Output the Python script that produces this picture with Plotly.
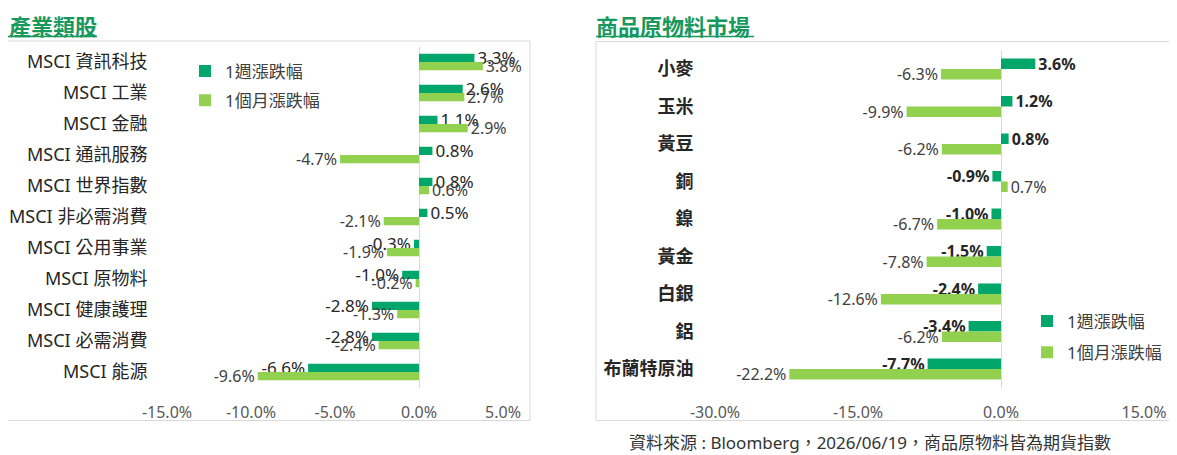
import plotly.graph_objects as go

W, H = 1177, 455

# 產業類股
sector_names = ["MSCI 資訊科技", "MSCI 工業", "MSCI 金融", "MSCI 通訊服務", "MSCI 世界指數",
                "MSCI 非必需消費", "MSCI 公用事業", "MSCI 原物料", "MSCI 健康護理",
                "MSCI 必需消費", "MSCI 能源"]
sector_week = [3.3, 2.6, 1.1, 0.8, 0.8, 0.5, -0.3, -1.0, -2.8, -2.8, -6.6]
sector_month = [3.8, 2.7, 2.9, -4.7, 0.6, -2.1, -1.9, -0.2, -1.3, -2.4, -9.6]
sector_ticks = [-15, -10, -5, 0, 5]

# 商品原物料市場
commodity_names = ["小麥", "玉米", "黃豆", "銅", "鎳", "黃金", "白銀", "鋁", "布蘭特原油"]
commodity_week = [3.6, 1.2, 0.8, -0.9, -1.0, -1.5, -2.4, -3.4, -7.7]
commodity_month = [-6.3, -9.9, -6.2, 0.7, -6.7, -7.8, -12.6, -6.2, -22.2]
commodity_ticks = [-30, -15, 0, 15]

series_names = ["1週漲跌幅", "1個月漲跌幅"]

DARK = "#00a66a"
LIGHT = "#92d050"
TITLE_GREEN = "#17985d"
FONT = "Noto Sans, Noto Sans CJK TC, sans-serif"

# the page body adds an 8px margin, so positions are given in window pixels
PAGE = 8


def fx(p):
    return (p - PAGE) / W


def fy(p):
    return 1 - (p - PAGE) / H


def pct(vals):
    # plain hyphen minus, like the source chart
    return [f"{v:.1f}%" for v in vals]


fig = go.Figure()

# bar thickness as a share of one category row
lw = 8.2 / 31
rw = 10.5 / 37.5
panels = [
    ("x", "y", "legend", sector_names, sector_week, sector_month, lw, "normal", 17),
    ("x2", "y2", "legend2", commodity_names, commodity_week, commodity_month, rw, "bold", 16),
]
for xa, ya, lg, names, week, month, w, wk_weight, wk_size in panels:
    fig.add_trace(go.Bar(
        x=week, y=names, orientation="h", name=series_names[0],
        xaxis=xa, yaxis=ya, legend=lg, legendgroup=lg + "a",
        marker=dict(color=DARK, line=dict(width=0)),
        width=w, offset=-w,
        text=pct(week), textposition="outside", constraintext="none",
        textfont=dict(size=wk_size, color="#262626", family=FONT, weight=wk_weight),
        cliponaxis=False,
    ))
    fig.add_trace(go.Bar(
        x=month, y=names, orientation="h", name=series_names[1],
        xaxis=xa, yaxis=ya, legend=lg, legendgroup=lg + "b",
        marker=dict(color=LIGHT, line=dict(width=0)),
        width=w, offset=0,
        text=pct(month), textposition="outside", constraintext="none",
        textfont=dict(size=16, color="#404040", family=FONT),
        cliponaxis=False,
    ))

xcommon = dict(showgrid=False, zeroline=True, zerolinecolor="#d9d9d9", zerolinewidth=1,
               showline=False, ticks="outside", ticklen=10, tickcolor="rgba(0,0,0,0)",
               automargin=False, tickmode="array",
               tickfont=dict(size=16, color="#595959", family=FONT), fixedrange=True)
ycommon = dict(type="category", autorange="reversed", showgrid=False, showline=False,
               ticks="outside", tickcolor="rgba(0,0,0,0)", automargin=False, fixedrange=True)

fig.update_layout(
    width=W, height=H,
    margin=dict(l=0, r=0, t=0, b=0, autoexpand=False),
    paper_bgcolor="white", plot_bgcolor="white",
    barmode="overlay",
    font=dict(family=FONT, color="#262626"),
    xaxis=dict(domain=[fx(167), fx(503)], range=[-15, 5], anchor="y",
               tickvals=sector_ticks, ticktext=pct(sector_ticks), **xcommon),
    yaxis=dict(domain=[fy(387.5), fy(46.5)], anchor="x", ticklen=15,
               tickfont=dict(size=18, color="#262626", family=FONT), **ycommon),
    xaxis2=dict(domain=[fx(715), fx(1144)], range=[-30, 15], anchor="y2",
                tickvals=commodity_ticks, ticktext=pct(commodity_ticks), **xcommon),
    yaxis2=dict(domain=[fy(387.75), fy(50.25)], anchor="x2", ticklen=17,
                tickfont=dict(size=18, color="#262626", family=FONT, weight="bold"), **ycommon),
    legend=dict(x=fx(185), y=fy(53.5), xanchor="left", yanchor="top",
                traceorder="grouped", tracegroupgap=4, bgcolor="rgba(0,0,0,0)",
                font=dict(size=17, color="#404040", family=FONT)),
    legend2=dict(x=fx(1027), y=fy(303.5), xanchor="left", yanchor="top",
                 traceorder="grouped", tracegroupgap=6, bgcolor="rgba(0,0,0,0)",
                 font=dict(size=17, color="#404040", family=FONT)),
    showlegend=True,
)

# panel frames and underlined titles
fig.add_shape(type="rect", xref="paper", yref="paper", x0=fx(3), x1=fx(530), y0=fy(420.5), y1=fy(41),
              line=dict(color="#d9d9d9", width=1), fillcolor="rgba(0,0,0,0)", layer="below")
fig.add_shape(type="rect", xref="paper", yref="paper", x0=fx(596), x1=fx(1173), y0=fy(420.5), y1=fy(41.5),
              line=dict(color="#d9d9d9", width=1), fillcolor="rgba(0,0,0,0)", layer="below")
fig.add_shape(type="line", xref="paper", yref="paper", x0=fx(8), x1=fx(97), y0=fy(36.5), y1=fy(36.5),
              line=dict(color=TITLE_GREEN, width=1.5))
fig.add_shape(type="line", xref="paper", yref="paper", x0=fx(596), x1=fx(754), y0=fy(36.5), y1=fy(36.5),
              line=dict(color=TITLE_GREEN, width=1.5))

fig.add_annotation(x=fx(8), y=fy(PAGE), xref="paper", yref="paper", xanchor="left", yanchor="top",
                   text="<b>產業類股</b>", showarrow=False, borderpad=0,
                   font=dict(size=22, color=TITLE_GREEN, family="Noto Sans CJK TC"))
fig.add_annotation(x=fx(595), y=fy(PAGE), xref="paper", yref="paper", xanchor="left", yanchor="top",
                   text="<b>商品原物料市場</b>", showarrow=False, borderpad=0,
                   font=dict(size=22, color=TITLE_GREEN, family="Noto Sans CJK TC"))
fig.add_annotation(x=fx(870), y=fy(442), xref="paper", yref="paper", xanchor="center", yanchor="middle",
                   text="資料來源 : Bloomberg，2026/06/19，商品原物料皆為期貨指數", showarrow=False,
                   font=dict(size=17, color="#333333", family=FONT))

fig.write_html("out.html")
